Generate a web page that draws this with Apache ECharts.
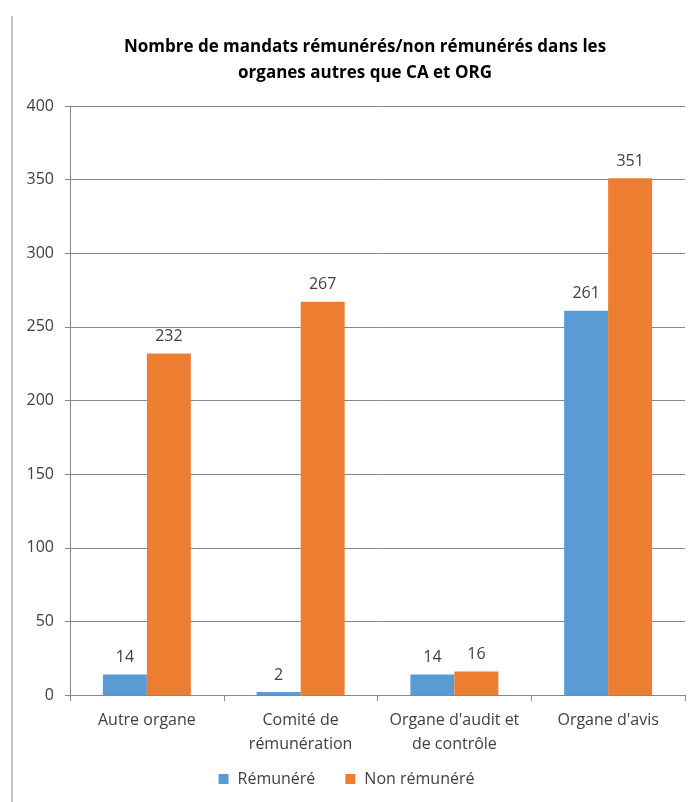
<!DOCTYPE html>
<html lang="fr">
<head>
    <meta charset="UTF-8">
    <title>Mandats</title>
    <script src="https://cdn.jsdelivr.net/npm/echarts@6/dist/echarts.min.js"></script>
</head>
<body style="margin:0;background:#fff;">
<div id="container" style="width:693px;height:802px;"></div>
<script>
    var categories = ['Autre organe', 'Comité de\nrémunération', "Organe d'audit et\nde contrôle", "Organe d'avis"];
    var remunere = [14, 2, 14, 261];
    var nonRemunere = [232, 267, 16, 351];
    var seriesNames = ['Rémunéré', 'Non rémunéré'];

    var font = 'Open Sans';
    var chart = echarts.init(document.getElementById('container'));

    var labelStyle = {
        show: true,
        position: 'top',
        distance: 9,
        color: '#404040',
        fontSize: 16,
        fontFamily: font
    };

    chart.setOption({
        backgroundColor: '#fff',
        animation: false,
        title: {
            text: 'Nombre de mandats rémunérés/non rémunérés dans les\norganes autres que CA et ORG',
            left: 360,
            top: 29,
            textAlign: 'center',
            textStyle: {
                fontFamily: font,
                fontSize: 17,
                fontWeight: 'bold',
                color: '#000',
                lineHeight: 26
            }
        },
        graphic: [{
            type: 'line',
            shape: {x1: 12, y1: 16, x2: 12, y2: 802},
            style: {stroke: '#888', lineWidth: 1}
        }],
        legend: {
            bottom: 10,
            left: 'center',
            itemWidth: 10,
            itemHeight: 10,
            itemGap: 30,
            icon: 'rect',
            textStyle: {color: '#404040', fontSize: 16, fontFamily: font, padding: [0, 0, 0, 4]},
            data: seriesNames
        },
        grid: {left: 70, right: 8, top: 106, bottom: 107},
        xAxis: {
            type: 'category',
            data: categories,
            axisLine: {lineStyle: {color: '#888'}},
            axisTick: {show: true, length: 6, lineStyle: {color: '#888'}},
            axisLabel: {
                color: '#404040',
                fontSize: 16,
                fontFamily: font,
                margin: 13,
                lineHeight: 24,
                interval: 0
            }
        },
        yAxis: {
            type: 'value',
            min: 0,
            max: 400,
            interval: 50,
            axisLine: {show: true, lineStyle: {color: '#888'}},
            axisTick: {show: true, length: 5, lineStyle: {color: '#888'}},
            splitLine: {lineStyle: {color: '#888'}},
            axisLabel: {
                color: '#404040',
                fontSize: 16,
                fontFamily: font,
                margin: 16
            }
        },
        series: [{
            name: seriesNames[0],
            type: 'bar',
            data: remunere,
            barWidth: 44,
            barGap: '0%',
            itemStyle: {color: '#5B9BD5'},
            label: labelStyle
        }, {
            name: seriesNames[1],
            type: 'bar',
            data: nonRemunere,
            barWidth: 44,
            barGap: '0%',
            itemStyle: {color: '#ED7D31'},
            label: labelStyle
        }]
    });
</script>
</body>
</html>
